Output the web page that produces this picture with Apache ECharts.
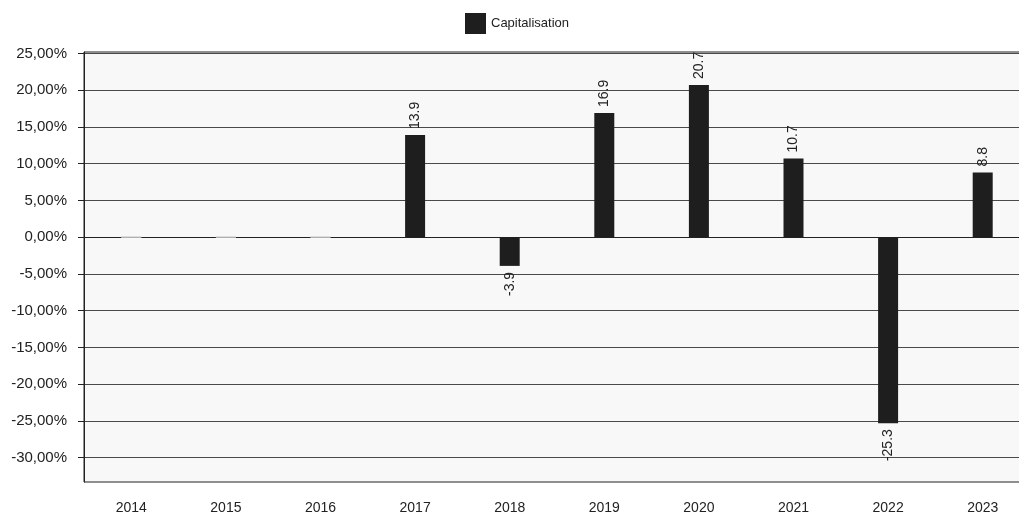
<!DOCTYPE html>
<html>
<head>
<meta charset="utf-8">
<title>Capitalisation</title>
<script src="https://cdn.jsdelivr.net/npm/echarts@6/dist/echarts.min.js"></script>
<style>
  html, body { margin: 0; padding: 0; background: #fff; }
  #chart { width: 1019px; height: 517px; }
</style>
</head>
<body>
<div id="chart"></div>
<script>
// data
const years = ['2014', '2015', '2016', '2017', '2018', '2019', '2020', '2021', '2022', '2023']
const capitalisation = [0, 0, 0, 13.9, -3.9, 16.9, 20.7, 10.7, -25.3, 8.8]
const yTicks = [-30, -25, -20, -15, -10, -5, 0, 5, 10, 15, 20, 25]

const font = '"Liberation Sans", Arial, sans-serif'

// one item per bar, label above or below depending on sign
const barData = capitalisation.map((v) => {
  if (v === 0) {
    return {
      value: v,
      itemStyle: { borderColor: '#bdbdbd', borderWidth: 1 },
      label: { show: false },
    }
  }
  return {
    value: v,
    label: {
      position: v > 0 ? 'top' : 'bottom',
      align: v > 0 ? 'left' : 'right',
    },
  }
})

const chart = echarts.init(document.getElementById('chart'), null, { renderer: 'canvas' })

chart.setOption({
  animation: false,
  backgroundColor: '#ffffff',
  legend: {
    top: 8,
    left: 460,
    itemWidth: 21,
    itemHeight: 21,
    itemGap: 10,
    icon: 'rect',
    textStyle: { fontFamily: font, fontSize: 13, color: '#222' },
    data: ['Capitalisation'],
  },
  grid: {
    left: 84,
    top: 52,
    right: -11,
    bottom: 35,
    show: true,
    backgroundColor: '#f8f8f8',
    borderColor: '#222',
    borderWidth: 1,
    outerBoundsMode: 'none',
    containLabel: false,
  },
  xAxis: {
    type: 'category',
    data: years,
    axisLine: { lineStyle: { color: '#222', width: 1 } },
    axisTick: { alignWithLabel: true, length: 6, lineStyle: { color: '#222' } },
    axisLabel: { margin: 19, fontFamily: font, fontSize: 14, color: '#222' },
    splitLine: { show: false },
  },
  yAxis: {
    type: 'value',
    min: -33.3,
    max: 25.2,
    axisLine: { show: true, lineStyle: { color: '#222', width: 1 } },
    axisTick: { show: true, length: 6, customValues: yTicks, lineStyle: { color: '#222' } },
    axisLabel: {
      margin: 17,
      fontFamily: font,
      fontSize: 15,
      color: '#222',
      customValues: yTicks,
      formatter: (v) => v.toFixed(2).replace('.', ',') + '%',
    },
    splitLine: { show: true, lineStyle: { color: '#4a4a4a', width: 1 } },
  },
  series: [
    {
      name: 'Capitalisation',
      type: 'bar',
      data: barData,
      barWidth: 20,
      itemStyle: { color: '#1e1e1e' },
      label: {
        show: true,
        rotate: 90,
        distance: 6,
        verticalAlign: 'middle',
        fontFamily: font,
        fontSize: 14,
        color: '#222',
        formatter: (p) => p.value.toFixed(1),
      },
    },
  ],
})
</script>
</body>
</html>
